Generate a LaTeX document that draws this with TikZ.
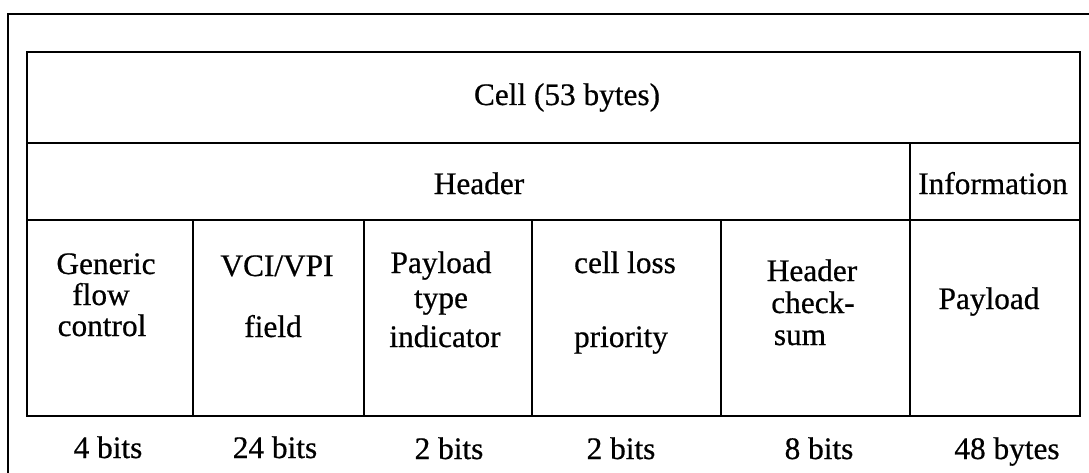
\documentclass[tikz,border=0pt]{standalone}
\usepackage{fontspec}
\setmainfont{Liberation Serif}[FakeBold=0.6]
\begin{document}
\begin{tikzpicture}[x=1pt,y=-1pt,
  cellbox/.style={draw,line width=2pt,anchor=north west,inner sep=0pt,outer sep=0pt},
  lbl/.style={anchor=base,inner sep=0pt,font=\fontsize{31.3}{36}\selectfont}]
\useasboundingbox (0,0) rectangle (1089,473);
% outer frame
\coordinate (fbl) at (8,473);
\coordinate (ftl) at (8,14);
\coordinate (ftr) at (1089,14);
\draw[line width=2pt] (fbl) -- (ftl) -- (ftr);
% rows
\node[cellbox,minimum width=1053pt,minimum height=91pt] (cell) at (27,52) {};
\node[cellbox,minimum width=883pt,minimum height=77pt] (hdr) at (27,143) {};
\node[cellbox,minimum width=170pt,minimum height=77pt] (info) at (910,143) {};
% fields
\node[cellbox,minimum width=166pt,minimum height=196pt] (f1) at (27,220) {};
\node[cellbox,minimum width=171pt,minimum height=196pt] (f2) at (193,220) {};
\node[cellbox,minimum width=168pt,minimum height=196pt] (f3) at (364,220) {};
\node[cellbox,minimum width=189pt,minimum height=196pt] (f4) at (532,220) {};
\node[cellbox,minimum width=189pt,minimum height=196pt] (f5) at (721,220) {};
\node[cellbox,minimum width=170pt,minimum height=196pt] (f6) at (910,220) {};
% texts
\node[lbl] (tcell) at (567,105) {Cell (53 bytes)};
\node[lbl] (thdr) at (479,194) {Header};
\node[lbl] (tinfo) at (993,194) {Information};
\node[lbl] (g1) at (106,274) {Generic};
\node[lbl] (g2) at (101,305) {flow};
\node[lbl] (g3) at (102,336) {control};
\node[lbl] (v1) at (277,276) {VCI/VPI};
\node[lbl] (v2) at (273,337) {field};
\node[lbl] (p1) at (441,273) {Payload};
\node[lbl] (p2) at (441,308) {type};
\node[lbl] (p3) at (445,347) {indicator};
\node[lbl] (c1) at (625,273) {cell loss};
\node[lbl] (c2) at (621,347) {priority};
\node[lbl] (h1) at (812,281) {Header};
\node[lbl] (h2) at (813,313) {check-};
\node[lbl] (h3) at (800,345) {sum};
\node[lbl] (pl) at (989,309) {Payload};
% sizes
\node[lbl] (s1) at (108,458) {4 bits};
\node[lbl] (s2) at (275,458) {24 bits};
\node[lbl] (s3) at (449,459) {2 bits};
\node[lbl] (s4) at (621,459) {2 bits};
\node[lbl] (s5) at (819,459) {8 bits};
\node[lbl] (s6) at (1007,459) {48 bytes};
\end{tikzpicture}
\end{document}
